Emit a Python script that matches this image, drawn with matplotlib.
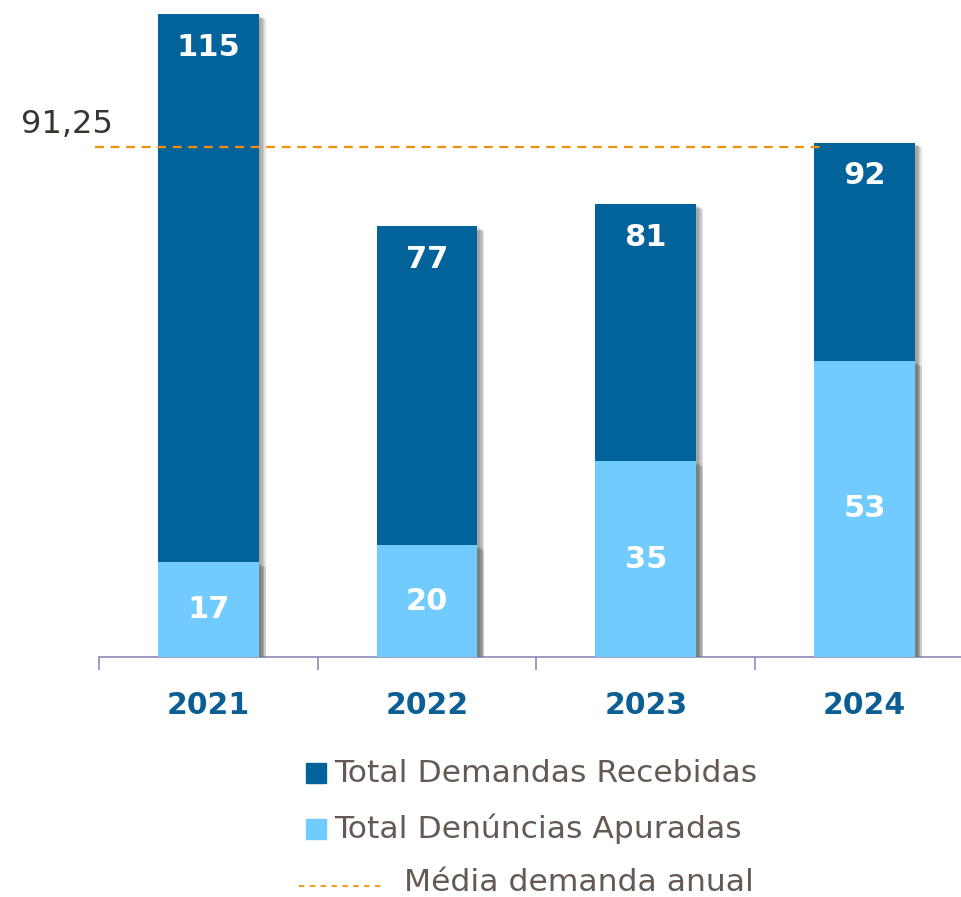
import matplotlib
matplotlib.use('Agg')
import matplotlib.pyplot as plt
import matplotlib.patheffects as pe
from matplotlib.patches import Rectangle
from matplotlib.lines import Line2D

anos = ['2021', '2022', '2023', '2024']
demandas = [115, 77, 81, 92]
denuncias = [17, 20, 35, 53]
media = 91.25
media_label = '91,25'
legenda = ['Total Demandas Recebidas', 'Total Denúncias Apuradas', 'Média demanda anual']

azul = '#02629a'
azul_claro = '#72cbfe'
laranja = '#f0900f'
texto = '#645a53'

W, H = 961, 897
fig = plt.figure(figsize=(W/100, H/100), dpi=100)
ax = fig.add_axes([99/W, (H-657)/H, (W-99)/W, 657/H])

x = range(len(anos))
# sombra "borrada": varias sombras com pouca opacidade
sombra = [pe.SimplePatchShadow(offset=(d, -d*0.7), shadow_rgbFace='#606060', alpha=0.18)
          for d in (5, 4, 3, 2)] + [pe.Normal()]
b1 = ax.bar(x, demandas, width=0.46, color=azul, zorder=2, path_effects=sombra)
b2 = ax.bar(x, denuncias, width=0.46, color=azul_claro, zorder=3, path_effects=sombra)

for i in x:
    ax.annotate(str(demandas[i]), (i, demandas[i]), xytext=(0, -24), textcoords='offset points',
                ha='center', va='center', color='white', fontsize=22, fontweight='bold', zorder=5)
    ax.text(i, denuncias[i]/2, str(denuncias[i]), ha='center', va='center', color='white',
            fontsize=22, fontweight='bold', zorder=5)

ax.axhline(media, xmin=-0.005, xmax=(822-99)/(W-99), color=laranja, ls=(0, (4, 3)), lw=1.6,
           zorder=4, clip_on=False)
ax.annotate(media_label, (0, media), xycoords=('axes fraction', 'data'), xytext=(-56, 5),
            textcoords='offset points', ha='left', va='bottom', fontsize=23, color='#3a332e')

ax.set_xlim(-0.5, -0.5 + (W-99)/218.7)
ax.set_ylim(0, 117.5)
ax.set_yticks([])
for s in ['top', 'right', 'left']:
    ax.spines[s].set_visible(False)
ax.spines['bottom'].set_color('#8e8ab8')
ax.spines['bottom'].set_linewidth(1.2)
ax.set_xticks([i - 0.5 for i in x])
ax.set_xticklabels([])
ax.tick_params(axis='x', length=9, color='#8e8ab8', width=1.2)
for i in x:
    ax.text(i, -8.6, anos[i], ha='center', va='center', fontsize=21.5, fontweight='bold',
            color='#0c5f95', transform=ax.transData, clip_on=False)

# legenda manual
ys = [773, 829, 882]
fig.patches.append(Rectangle((306/W, 1-(ys[0]+10)/H), 20/W, 20/H, color=azul, transform=fig.transFigure))
fig.patches.append(Rectangle((306/W, 1-(ys[1]+10)/H), 20/W, 20/H, color=azul_claro, transform=fig.transFigure))
fig.lines.append(Line2D([299/W, 385/W], [1-(ys[2]+4)/H]*2, color=laranja, ls=(0, (3, 3)), lw=1.3,
                        transform=fig.transFigure))
for lab, y, xt in zip(legenda, ys, [334, 334, 404]):
    fig.text(xt/W, 1-y/H, lab, ha='left', va='center', fontsize=22.6, color=texto)

fig.savefig('out.png', dpi=100)
